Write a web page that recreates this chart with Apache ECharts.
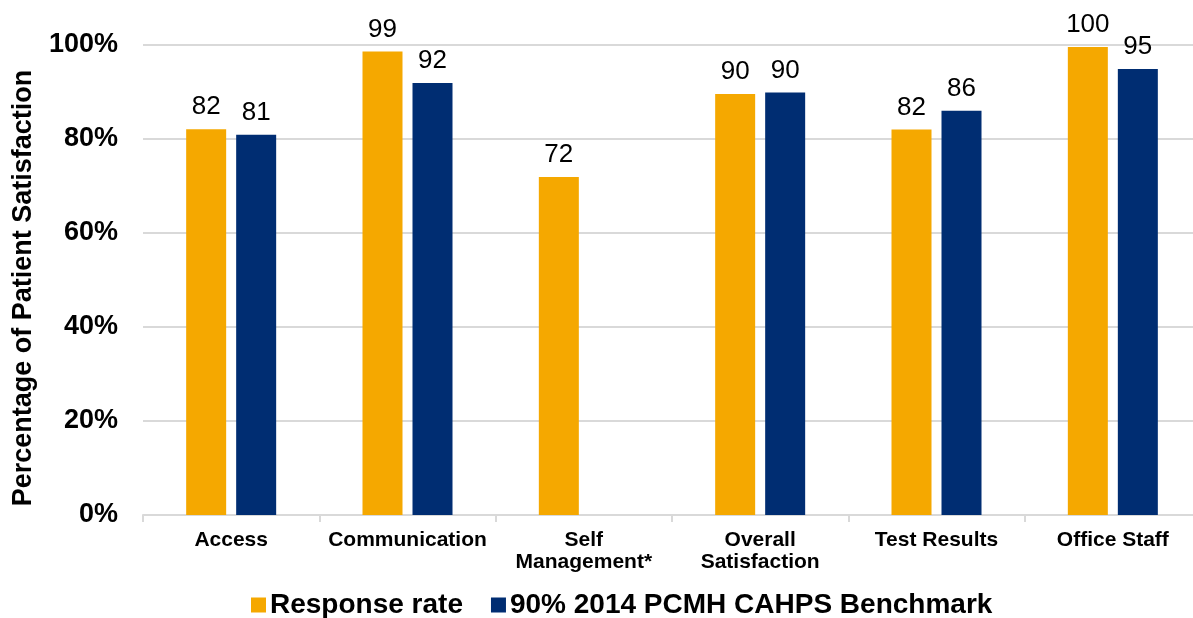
<!DOCTYPE html>
<html><head><meta charset="utf-8">
<script src="https://cdn.jsdelivr.net/npm/echarts@6/dist/echarts.min.js"></script>
<style>html,body{margin:0;padding:0;background:#fff}#c{width:1193px;height:618px}</style>
</head><body><div id="c"></div>
<script>
const categories = ['Access', 'Communication', 'Self\nManagement*', 'Overall\nSatisfaction', 'Test Results', 'Office Staff'];
const responseRate = [82.1, 98.6, 71.9, 89.6, 82.0, 99.6];
const benchmark = [80.9, 91.9, null, 89.9, 86.0, 94.9];
const yTicks = [0, 20, 40, 60, 80, 100];
const seriesNames = ['Response rate', '90% 2014 PCMH CAHPS Benchmark'];

const font = 'Arial, "Liberation Sans", sans-serif';
const chart = echarts.init(document.getElementById('c'));
const labelOpt = {
  show: true, position: 'top', distance: 9, color: '#000',
  fontFamily: font, fontSize: 26,
  formatter: p => p.value == null ? '' : Math.round(p.value)
};
chart.setOption({
  animation: false,
  grid: { left: 143, top: 45, width: 1058, height: 470, outerBoundsMode: 'none', containLabel: false },
  legend: {
    left: 246, top: 586, itemWidth: 15, itemHeight: 15, itemGap: 28,
    icon: 'rect',
    textStyle: { fontFamily: font, fontSize: 28, fontWeight: 'bold', color: '#000', padding: [0, 0, 0, -1] },
    data: seriesNames
  },
  xAxis: {
    type: 'category', data: categories,
    axisLine: { lineStyle: { color: '#d9d9d9', width: 2 } },
    axisTick: { show: true, length: 7, lineStyle: { color: '#d9d9d9', width: 2 } },
    axisLabel: { interval: 0, fontFamily: font, fontSize: 21, fontWeight: 'bold', color: '#000', margin: 14, lineHeight: 22 }
  },
  yAxis: {
    type: 'value', min: 0, max: 100, interval: 20,
    name: 'Percentage of Patient Satisfaction', nameLocation: 'middle', nameGap: 106,
    nameTextStyle: { fontFamily: font, fontSize: 27, fontWeight: 'bold', color: '#000', padding: [0, 16, 0, 0] },
    axisLine: { show: false }, axisTick: { show: false },
    axisLabel: { fontFamily: font, fontSize: 27, fontWeight: 'bold', color: '#000', margin: 25,
      formatter: v => yTicks.includes(v) ? v + '%' : '' },
    splitLine: { lineStyle: { color: '#d9d9d9', width: 2 } }
  },
  series: [
    { name: seriesNames[0], type: 'bar', data: responseRate, barWidth: 40, barGap: '25%',
      itemStyle: { color: '#F5A800' }, label: labelOpt },
    { name: seriesNames[1], type: 'bar', data: benchmark, barWidth: 40,
      itemStyle: { color: '#002D72' }, label: labelOpt }
  ]
});
</script></body></html>
